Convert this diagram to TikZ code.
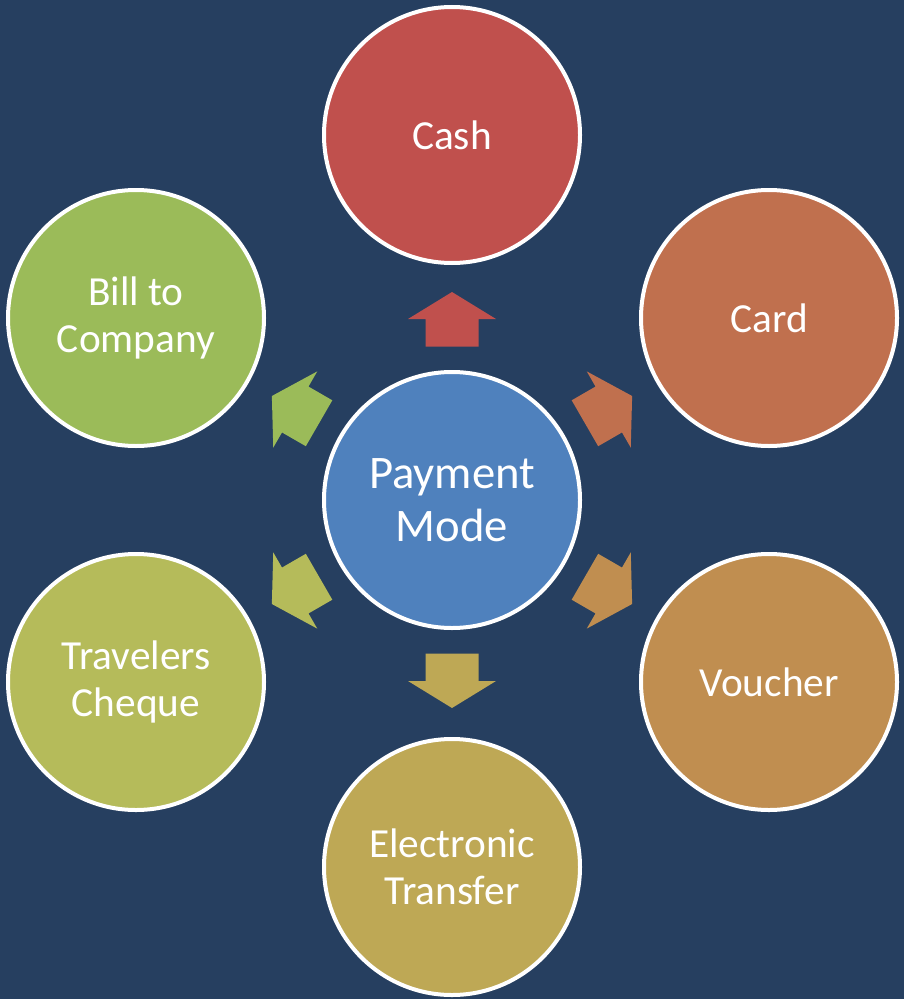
\documentclass[tikz,border=0pt]{standalone}
\usepackage{fontspec}
\setmainfont{Carlito}
\definecolor{bg}{RGB}{38,63,96}
\definecolor{cblue}{RGB}{79,129,189}
\definecolor{ccash}{RGB}{192,80,77}
\definecolor{ccard}{RGB}{192,112,78}
\definecolor{cvouch}{RGB}{192,142,80}
\definecolor{celec}{RGB}{190,168,85}
\definecolor{ctrav}{RGB}{181,187,90}
\definecolor{cbill}{RGB}{155,187,89}
\tikzset{
  bubble/.style={circle, draw=white, line width=3pt, minimum size=192pt, inner sep=0pt,
    align=center, text=white, font=\fontsize{31}{35}\selectfont},
  hub/.style={bubble, font=\fontsize{35}{39.75}\selectfont},
}
\newcommand{\payarrow}[2]{%
  \fill[#2, shift={(452,500)}, rotate=#1]
    (153.5,-26.5) -- (181,-26.5) -- (181,-44) -- (208,0) -- (181,44) -- (181,26.5) -- (153.5,26.5) -- cycle;}
\begin{document}
\begin{tikzpicture}[x=0.75pt,y=-0.75pt]
\fill[bg] (0,0) rectangle (904,999);
\useasboundingbox (0,0) rectangle (904,999);
\node[hub, fill=cblue] (pm) at (452,500) {Payment\\Mode};
\node[bubble, fill=ccash] (cash) at (452,135) {Cash};
\node[bubble, fill=ccard] (card) at (769,318) {Card};
\node[bubble, fill=cvouch] (vouch) at (769,682) {Voucher};
\node[bubble, fill=celec] (elec) at (452,867) {Electronic\\Transfer};
\node[bubble, fill=ctrav] (trav) at (136,682) {Travelers\\Cheque};
\node[bubble, fill=cbill] (bill) at (136,318) {Bill to\\Company};
\payarrow{90}{ccash}
\payarrow{30}{ccard}
\payarrow{-30}{cvouch}
\payarrow{-90}{celec}
\payarrow{-150}{ctrav}
\payarrow{150}{cbill}
\end{tikzpicture}
\end{document}
